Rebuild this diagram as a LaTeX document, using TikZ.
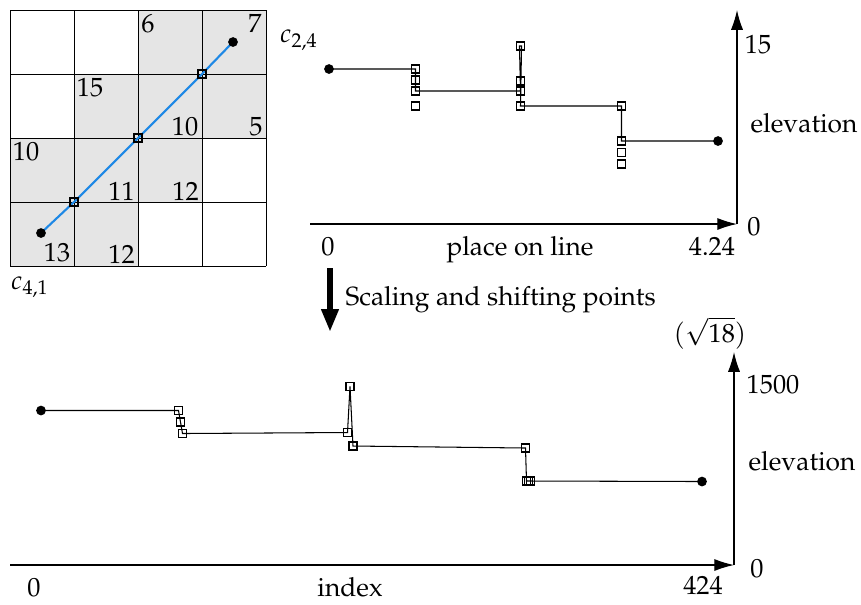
\documentclass[tikz,border=0pt]{standalone}
\usepackage[T1]{fontenc}
\usepackage{mathpazo}
\usetikzlibrary{arrows.meta}
\definecolor{lineblue}{RGB}{30,136,229}
\definecolor{cellgray}{gray}{0.9}
\pgfdeclarelayer{bg}
\pgfdeclarelayer{conn}
\pgfsetlayers{bg,conn,main}
\begin{document}
\begin{tikzpicture}[x=0.38pt,y=-0.38pt,
  sq/.style={draw,line width=0.6pt,minimum size=3.1pt,inner sep=0pt,outer sep=0pt},
  dot/.style={circle,fill,minimum size=3.7pt,inner sep=0pt},
  lbl/.style={inner sep=0pt},
  conn/.style={line width=0.4pt},
  blueconn/.style={line width=0.8pt,draw=lineblue},
  gridline/.style={line width=0.35pt},
  axis/.style={line width=0.45pt,-{Latex[length=7.5pt,width=4.6pt]}},
  bigarrow/.style={line width=2.5pt,-{Triangle[length=8.7pt,width=6.2pt]}}
]
\useasboundingbox (0,0) rectangle (861,604);

% ---------- grid ----------
\begin{pgfonlayer}{bg}
\fill[cellgray] (138,10) rectangle (266,74);
\fill[cellgray] (74,74) rectangle (266,138);
\fill[cellgray] (10,138) rectangle (202,202);
\fill[cellgray] (10,202) rectangle (138,266);
\foreach \i in {10,74,138,202,266} {
  \draw[gridline] (\i,10) -- (\i,266);
  \draw[gridline] (10,\i) -- (266,\i);
}
\end{pgfonlayer}

\node[lbl] (n6)  at (148,24) {6};
\node[lbl] (n7)  at (255,23.5) {7};
\node[lbl] (n15) at (90,88) {15};
\node[lbl] (n10a) at (185,127) {10};
\node[lbl] (n5)  at (256,127) {5};
\node[lbl] (n10b) at (26,152) {10};
\node[lbl] (n11) at (121.5,191) {11};
\node[lbl] (n12a) at (185.5,191) {12};
\node[lbl] (n13) at (57,253) {13};
\node[lbl] (n12b) at (121.5,254) {12};

\node[dot] (g0) at (41,233) {};
\node[sq]  (g1) at (74,202) {};
\node[sq]  (g2) at (138,138) {};
\node[sq]  (g3) at (202,74) {};
\node[dot] (g4) at (233,42) {};
\begin{pgfonlayer}{conn}
\draw[blueconn] (g0.center) -- (g1.center) -- (g2.center) -- (g3.center) -- (g4.center);
\end{pgfonlayer}

\node[lbl] (c24) at (299,40) {$c_{2,4}$};
\node[lbl] (c41) at (30,287) {$c_{4,1}$};

% ---------- top plot ----------
\coordinate (tx0) at (310,224);
\coordinate (torig) at (737,224);
\coordinate (tytop) at (737,10);
\draw[axis] (tx0) -- (torig);
\draw[axis] (torig) -- (tytop);

\node[dot] (a0) at (329,69) {};
\node[sq] (a1) at (415.5,69) {};
\node[sq] (a2) at (415.5,80) {};
\node[sq] (a3) at (415.5,91) {};
\node[sq] (a4) at (415.5,106) {};
\node[sq] (b1) at (520.5,46) {};
\node[sq] (b2) at (520.5,81) {};
\node[sq] (b3) at (520.5,91) {};
\node[sq] (b4) at (520.5,106) {};
\node[sq] (c1) at (621.5,106) {};
\node[sq] (c2) at (621.5,141) {};
\node[sq] (c3) at (621.5,152.5) {};
\node[sq] (c4) at (621.5,164) {};
\node[dot] (d0) at (718,141) {};
\begin{pgfonlayer}{conn}
\draw[conn] (a0.center) -- (a1.center) -- (a3.center) -- (b3.center) -- ([xshift=-0.4pt]b1.center) -- ([xshift=0.4pt]b1.center) -- (b4.center) -- (c1.center) -- (c2.center) -- (d0.center);
\end{pgfonlayer}

\node[lbl,anchor=base] (tl15) at (758,53) {15};
\node[lbl,anchor=base] (tl0r) at (754,235) {0};
\node[lbl,anchor=base] (tlel) at (804,132) {elevation};
\node[lbl,anchor=base] (tl0) at (328,255) {0};
\node[lbl,anchor=base] (tlpl) at (520,255) {place on line};
\node[lbl,anchor=base] (tl424) at (712,255) {4.24};

% ---------- middle arrow ----------
\coordinate (ba0) at (330,268);
\coordinate (ba1) at (330,332);
\draw[bigarrow] (ba0) -- (ba1);
\node[lbl,anchor=base west] (scal) at (345,305) {Scaling and shifting points};
\node[lbl] (sqrt) at (710,333) {$(\sqrt{18})$};

% ---------- bottom plot ----------
\coordinate (bx0) at (10,565);
\coordinate (borig) at (734,565);
\coordinate (bytop) at (734,352);
\draw[axis] (bx0) -- (borig);
\draw[axis] (borig) -- (bytop);

\node[dot] (e0) at (41,410.5) {};
\node[sq] (e1) at (178.5,410.5) {};
\node[sq] (e2) at (180.5,422) {};
\node[sq] (e3) at (182.5,433.5) {};
\node[sq] (f1) at (347.5,432.5) {};
\node[sq] (f2) at (350,386.5) {};
\node[sq] (f3) at (353,446) {};
\node[sq] (h1) at (525.5,448) {};
\node[sq] (h2) at (526.5,481) {};
\node[sq] (h3) at (528.5,481) {};
\node[sq] (h4) at (530.5,481) {};
\node[dot] (k0) at (702,481.5) {};
\begin{pgfonlayer}{conn}
\draw[conn] (e0.center) -- (e1.center) -- (e2.center) -- (e3.center) -- (f1.center) -- (f2.center) -- (f3.center) -- (h1.center) -- (h2.center) -- (h4.center) -- (k0.center);
\end{pgfonlayer}

\node[lbl,anchor=base] (bl1500) at (773,393) {1500};
\node[lbl,anchor=base] (bl0r) at (757,577) {0};
\node[lbl,anchor=base] (blel) at (802,470) {elevation};
\node[lbl,anchor=base] (bl0) at (34,596) {0};
\node[lbl,anchor=base] (blidx) at (350,596) {index};
\node[lbl,anchor=base] (bl424) at (703,594) {424};
\end{tikzpicture}
\end{document}
